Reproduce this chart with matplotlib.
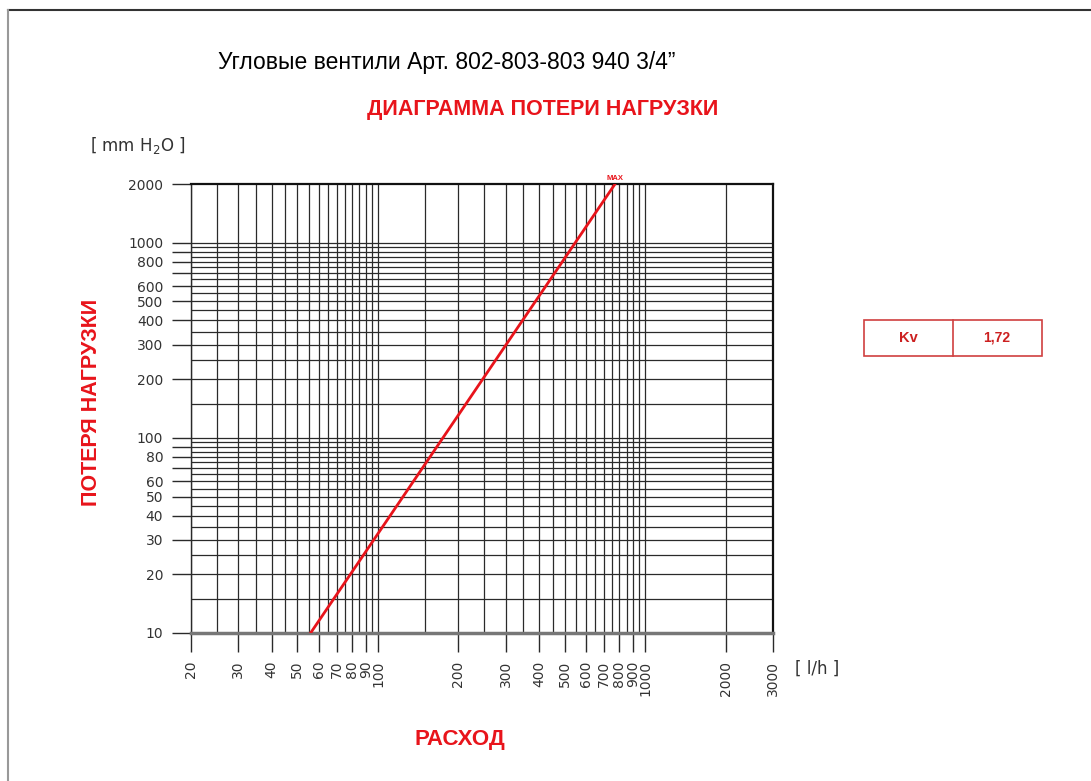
import numpy as np
import matplotlib.pyplot as plt
from matplotlib.lines import Line2D
from matplotlib.patches import Rectangle

plt.rcParams['font.family'] = ['Liberation Sans', 'DejaVu Sans']

# data
flow = [56, 770]          # l/h
head = [10, 2000]         # mm H2O
kv = "1,72"

x_ticks = [20, 30, 40, 50, 60, 70, 80, 90, 100, 200, 300, 400, 500, 600, 700, 800, 900, 1000, 2000, 3000]
y_ticks = [10, 20, 30, 40, 50, 60, 70, 80, 90, 100, 200, 300, 400, 500, 600, 700, 800, 900, 1000, 2000]
y_labels = {10: "10", 20: "20", 30: "30", 40: "40", 50: "50", 60: "60", 80: "80", 100: "100",
            200: "200", 300: "300", 400: "400", 500: "500", 600: "600", 800: "800", 1000: "1000", 2000: "2000"}

x_grid = list(range(20, 100, 5)) + list(range(100, 1001, 50)) + [2000]
y_grid = list(range(15, 100, 5)) + list(range(100, 1001, 50))

red = '#e8141b'
ink = '#2a2a2a'
tick_font = dict(family='DejaVu Sans', size=10, weight='normal')

fig = plt.figure(figsize=(10.91, 7.81), dpi=100)
ax = fig.add_axes([191/1091, 148/781, 582/1091, 449/781])
ax.set_xscale('log')
ax.set_yscale('log')
ax.set_xlim(20, 3000)
ax.set_ylim(10, 2000)

for v in x_grid:
    ax.axvline(v, color=ink, lw=0.9, zorder=1)
for v in y_grid:
    ax.axhline(v, color=ink, lw=0.9, zorder=1)

ax.plot(flow, head, color=red, lw=2, zorder=3)
ax.text(flow[1], head[1] * 1.02, "MAX", color=red, fontsize=5.5, fontweight='bold',
        ha='center', va='bottom')

ax.minorticks_off()
ax.set_xticks(x_ticks)
ax.set_xticklabels([str(v) for v in x_ticks], rotation=90, color='#333333', fontdict=tick_font)
ax.set_yticks(y_ticks)
ax.set_yticklabels([y_labels.get(v, "") for v in y_ticks], color='#333333', fontdict=tick_font)
ax.tick_params(axis='both', direction='out', length=14, width=1.0, color=ink, pad=6)

for s in ['top', 'right']:
    ax.spines[s].set_linewidth(1.6)
    ax.spines[s].set_color('#111111')
ax.spines['left'].set_linewidth(1.0)
ax.spines['left'].set_color(ink)
ax.spines['bottom'].set_linewidth(2.5)
ax.spines['bottom'].set_color('#777777')

# texts
fig.text(218/1091, 1 - 63/781, "Угловые вентили Арт. 802-803-803 940 3/4\u201d",
         fontsize=16.5, color='black', ha='left', va='center')
fig.text(543/1091, 1 - 109/781, "ДИАГРАММА ПОТЕРИ НАГРУЗКИ",
         fontsize=15.5, fontweight='bold', color=red, ha='center', va='center')
fig.text(90/1091, 1 - 145/781, "[ mm H$_2$O ]", fontsize=12, color='#333333',
         family='DejaVu Sans', ha='left', va='center')
fig.text(92/1091, 1 - 402/781, "ПОТЕРЯ НАГРУЗКИ", fontsize=15.5, fontweight='bold',
         color=red, rotation=90, ha='center', va='center')
fig.text(460/1091, 1 - 739/781, "РАСХОД", fontsize=16, fontweight='bold',
         color=red, ha='center', va='center')
fig.text(795/1091, 1 - 669/781, "[ l/h ]", fontsize=12, color='#333333',
         family='DejaVu Sans', ha='left', va='center')

# Kv box
fig.add_artist(Rectangle((864/1091, 1 - 356/781), 178/1091, 36/781, transform=fig.transFigure,
                         fill=False, edgecolor='#d04040', lw=1.2))
fig.add_artist(Line2D([953/1091, 953/1091], [1 - 356/781, 1 - 320/781], transform=fig.transFigure,
                      color='#d04040', lw=1.2))
fig.text(908/1091, 1 - 338/781, "Kv", fontsize=10.5, fontweight='bold', color='#cc2020',
         ha='center', va='center')
fig.text(997/1091, 1 - 338/781, kv, fontsize=10, fontweight='bold', color='#cc2020',
         ha='center', va='center')

# frame of the sheet
fig.add_artist(Line2D([8/1091, 1], [1 - 10/781, 1 - 10/781], transform=fig.transFigure,
                      color='#333333', lw=1.5))
fig.add_artist(Line2D([8/1091, 8/1091], [0, 1 - 10/781], transform=fig.transFigure,
                      color='#999999', lw=1.5))

fig.savefig('out.png', dpi=100)
